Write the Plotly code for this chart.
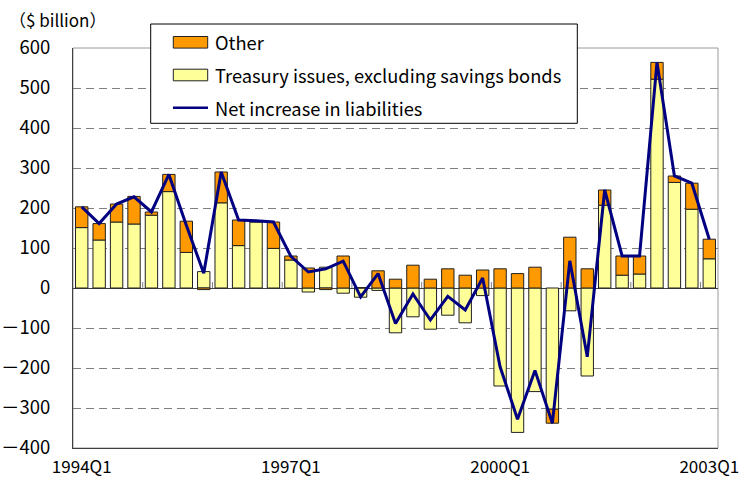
import plotly.graph_objects as go

# Quarterly flow of federal government liabilities, $ billion
quarters = [f"{y}Q{q}" for y in range(1994, 2003) for q in range(1, 5)] + ["2003Q1"]

treasury = [151, 120, 165, 160, 182, 241, 89, 41,
            213, 106, 165, 99, 70, -10, 52, -13,
            -23, -6, -112, -72, -103, -68, -87, -19,
            -245, -361, -259, -303, -57, -220, 207, 32,
            35, 522, 264, 197, 73]

other = [52, 41, 45, 69, 8, 43, 78, -4,
         77, 64, 3, 66, 10, 50, -4, 80,
         1, 43, 22, 57, 22, 48, 32, 45,
         48, 36, 52, -35, 127, 48, 38, 48,
         45, 42, 16, 65, 49]

net = [203, 161, 210, 228, 190, 284, 157, 37,
       290, 170, 168, 165, 79, 40, 48, 67,
       -22, 36, -89, -15, -80, -21, -55, 25,
       -197, -328, -206, -338, 68, -172, 245, 80,
       80, 564, 280, 262, 122]

x_ticks = ["1994Q1", "1997Q1", "2000Q1", "2003Q1"]
y_ticks = [600, 500, 400, 300, 200, 100, 0, -100, -200, -300, -400]
y_ticktext = [str(v) if v >= 0 else "\uff0d" + str(-v) for v in y_ticks]

legend_names = ["Other", "Treasury issues, excluding savings bonds",
                "Net increase in liabilities"]

ORANGE = "#FF9900"
YELLOW = "#FFFF99"
NAVY = "#000080"
FONT = "Noto Sans CJK JP"

W, H = 742, 488
L, R, T, B = 73, 24, 48, 40
PW, PH = W - L - R, H - T - B


def px(x):
    return (x - L) / PW


def py(y):
    return (H - B - y) / PH


fig = go.Figure()
fig.add_trace(go.Bar(x=quarters, y=treasury, name=legend_names[1],
                     marker=dict(color=YELLOW, line=dict(color="#202020", width=1))))
fig.add_trace(go.Bar(x=quarters, y=other, name=legend_names[0],
                     marker=dict(color=ORANGE, line=dict(color="#202020", width=1))))
fig.add_trace(go.Scatter(x=quarters, y=net, name=legend_names[2], mode="lines",
                         line=dict(color=NAVY, width=3)))

shapes = []
# plot-area frame (light on top/right)
shapes.append(dict(type="rect", xref="paper", yref="paper", x0=0, x1=1, y0=0, y1=1,
                   line=dict(color="#9a9a9a", width=1), layer="below"))
# small category ticks on the zero line at each year boundary
for i in range(4, len(quarters), 4):
    shapes.append(dict(type="line", xref="x", yref="y", x0=i - 0.5, x1=i - 0.5,
                       y0=0, y1=15, line=dict(color="#808080", width=1), layer="below"))

# key box
shapes.append(dict(type="rect", xref="paper", yref="paper",
                   x0=px(150.7), x1=px(577.3), y0=py(123.3), y1=py(24),
                   fillcolor="white", line=dict(color="black", width=1), layer="above"))
rows = [42.3, 75.0, 107.7]
for yc, col in zip(rows[:2], [ORANGE, YELLOW]):
    shapes.append(dict(type="rect", xref="paper", yref="paper",
                       x0=px(173.3), x1=px(207.7), y0=py(yc + 5.8), y1=py(yc - 5.8),
                       fillcolor=col, line=dict(color="#202020", width=1), layer="above"))
shapes.append(dict(type="line", xref="paper", yref="paper",
                   x0=px(173), x1=px(208), y0=py(rows[2]), y1=py(rows[2]),
                   line=dict(color=NAVY, width=2.5), layer="above"))

annotations = [dict(xref="paper", yref="paper", x=px(213), y=py(yc), text=t,
                    xanchor="left", yanchor="middle", showarrow=False,
                    font=dict(family=FONT, size=18.3, color="black"))
               for yc, t in zip(rows, legend_names)]
annotations.append(dict(xref="paper", yref="paper", x=px(7), y=py(20),
                        text="\uff08$ billion\uff09", xanchor="left", yanchor="middle",
                        showarrow=False, font=dict(family=FONT, size=17, color="black")))

fig.update_layout(
    width=W, height=H,
    margin=dict(l=L, r=R, t=T, b=B, pad=0, autoexpand=False),
    paper_bgcolor="white", plot_bgcolor="white",
    barmode="relative", bargap=0.29,
    showlegend=False,
    font=dict(family=FONT, size=18, color="black"),
    shapes=shapes, annotations=annotations,
    xaxis=dict(type="category", range=[-0.5, len(quarters) - 0.5],
               tickmode="array", tickvals=x_ticks, ticktext=x_ticks,
               showgrid=False, ticks="", showline=True, linecolor="#404040",
               linewidth=1, ticklabelstandoff=4, tickangle=0, automargin=False,
               tickfont=dict(family=FONT, size=17)),
    yaxis=dict(range=[-400, 600], tickmode="array", tickvals=y_ticks,
               ticktext=y_ticktext, showgrid=True, gridcolor="#808080",
               griddash="8px,5px", gridwidth=1, zeroline=True,
               zerolinecolor="#404040", zerolinewidth=1, showline=True,
               linecolor="#404040", linewidth=1, ticks="", automargin=False,
               ticklabelstandoff=18, tickfont=dict(family=FONT, size=18.5)),
)

fig.write_html("out.html")
